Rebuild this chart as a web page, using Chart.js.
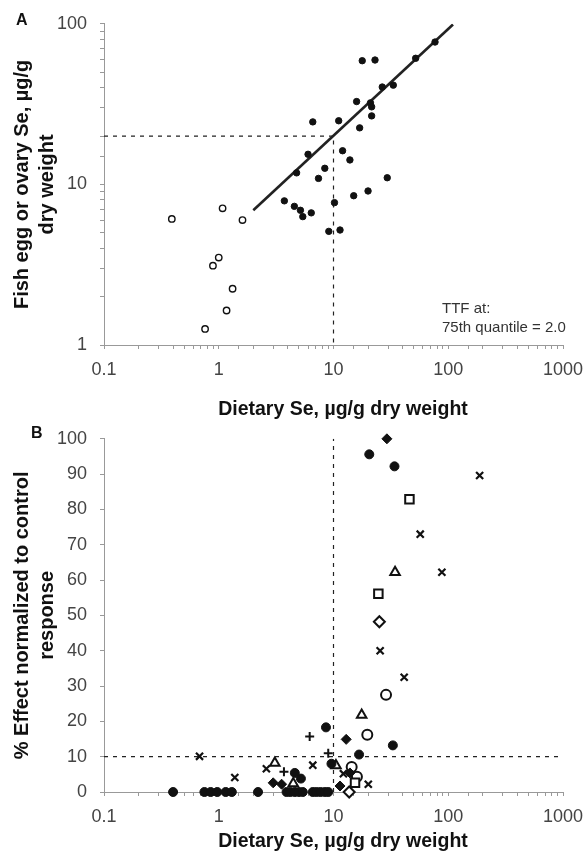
<!DOCTYPE html>
<html>
<head>
<meta charset="utf-8">
<script src="https://cdn.jsdelivr.net/npm/chart.js@4.4.1/dist/chart.umd.min.js"></script>
<style>
  html, body { margin: 0; padding: 0; background: #fff; }
  #wrap { position: relative; width: 586px; height: 854px; overflow: hidden; font-family: "Liberation Sans", Arial, sans-serif; }
  canvas { position: absolute; left: 0; }
  #chartA { top: 0; }
  #chartB { top: 415px; }
  .panel { position: absolute; font-weight: bold; font-size: 16px; color: #111; }
  .xtitle { position: absolute; left: 193px; width: 300px; text-align: center; font-weight: bold; font-size: 19.5px; line-height: 24px; color: #111; white-space: nowrap; }
  #ttf { position: absolute; left: 442px; top: 298px; font-size: 15px; line-height: 19px; color: #333; }
</style>
</head>
<body>
<div id="wrap">
  <canvas id="chartA" width="586" height="427"></canvas>
  <canvas id="chartB" width="586" height="439"></canvas>
  <div class="panel" style="left:16px; top:11px;">A</div>
  <div class="panel" style="left:31px; top:424px;">B</div>
  <div class="xtitle" style="top:396px;">Dietary Se, µg/g dry weight</div>
  <div class="xtitle" style="top:828px;">Dietary Se, µg/g dry weight</div>
  <div id="ttf">TTF at:<br>75th quantile = 2.0</div>
</div>
<script>
const FONT = '"Liberation Sans", Arial, sans-serif';

// axes
const xTickLabels = [0.1, 1, 10, 100, 1000];
const yTickLabelsA = [1, 10, 100];
const yTickLabelsB = [0, 10, 20, 30, 40, 50, 60, 70, 80, 90, 100];

// Panel A - fish egg/ovary Se vs dietary Se
const aOpenX = [0.39, 1.08, 1.61, 1.0, 0.89, 1.32, 1.17, 0.76];
const aOpenY = [6.1, 7.1, 6.0, 3.5, 3.12, 2.24, 1.64, 1.26];
const aFilledX = [17.8, 23, 26.6, 33.2, 52, 76.7, 15.9, 21, 21.5, 21.5, 16.9, 11.1, 6.6, 6.0, 12, 13.9, 8.4, 7.4, 29.4, 20, 15, 10.2, 3.73, 4.56, 5.15, 5.4, 6.4, 9.1, 11.4, 4.77];
const aFilledY = [58.9, 59.5, 40.4, 41.5, 61, 77, 32.8, 32.2, 30.4, 26.7, 22.5, 24.9, 24.5, 15.4, 16.2, 14.2, 12.6, 10.9, 11.0, 9.1, 8.5, 7.7, 7.9, 7.3, 6.9, 6.3, 6.65, 5.1, 5.2, 11.8];
const aFitX = [2, 110];
const aFitY = [6.9, 99];
const aGuideX = [0.1, 10, 10];
const aGuideY = [20, 20, 1];

// Panel B - % effect vs dietary Se
const bDotX = [20.5, 34, 8.6, 32.9, 16.7, 9.6, 4.6, 5.2, 0.40, 0.75, 0.85, 0.97, 1.15, 1.3, 2.2, 3.9, 4.2, 4.6, 5.0, 5.4, 6.6, 7.1, 7.7, 8.4, 9.0];
const bDotY = [95.6, 92.2, 18.3, 13.2, 10.6, 8, 5.4, 3.8, 0, 0, 0, 0, 0, 0, 0, 0, 0, 0, 0, 0, 0, 0, 0, 0, 0];
const bDiamondX = [29.2, 12.9, 2.98, 3.53, 13.9, 11.4];
const bDiamondY = [100, 14.9, 2.6, 2.2, 5.4, 1.7];
const bCrossX = [187.7, 57, 88, 25.5, 41.3, 0.68, 1.38, 2.6, 6.6, 12.2, 20.1];
const bCrossY = [89.6, 73, 62.2, 40, 32.5, 10.1, 4.1, 6.6, 7.6, 5.2, 2.2];
const bSquareX = [45.9, 24.6, 15.4];
const bSquareY = [82.9, 56.1, 2.6];
const bTriangleX = [34.4, 17.6, 3.08, 10.5, 4.46];
const bTriangleY = [62.2, 21.8, 8.2, 7.5, 2.4];
const bOpenDiamondX = [25.1, 13.7];
const bOpenDiamondY = [48.2, 0];
const bCircleX = [28.7, 19.7, 14.4, 16];
const bCircleY = [27.5, 16.2, 7.1, 4.3];
const bPlusX = [6.2, 9.0, 3.7];
const bPlusY = [15.7, 11, 5.7];
const bGuideHX = [0.1, 1000];
const bGuideHY = [10, 10];
const bGuideVX = [10, 10];
const bGuideVY = [0, 100];

const pts = (xs, ys) => xs.map((x, i) => ({ x: x, y: ys[i] }));
const isTick = (v, list) => list.some(t => Math.abs(v - t) <= Math.abs(t) * 1e-6 + 1e-9);

function marks(xs, ys, style, radius, filled, bw) {
    return {
        type: 'scatter',
        data: pts(xs, ys),
        pointStyle: style,
        pointRadius: radius,
        pointBorderWidth: bw,
        pointBorderColor: '#111',
        pointBackgroundColor: filled ? '#111' : '#fff',
        clip: false,
        order: 1
    };
}

function guide(xs, ys, dash, width) {
    return {
        type: 'line',
        data: pts(xs, ys),
        borderColor: '#222',
        borderWidth: width,
        borderDash: dash,
        pointRadius: 0,
        fill: false,
        tension: 0,
        order: 2
    };
}

function xScale(boxHeight) {
    return {
        type: 'logarithmic',
        min: 0.1,
        max: 1000,
        border: { display: true, color: '#999', dash: [1, 2] },
        grid: { drawOnChartArea: false, drawTicks: true, tickLength: 4, color: '#999' },
        ticks: {
            autoSkip: false,
            maxRotation: 0,
            padding: 10,
            color: '#444',
            font: { size: 18, family: FONT },
            callback: v => isTick(v, xTickLabels) ? String(xTickLabels.find(t => isTick(v, [t]))) : ''
        },
        afterFit: s => {
            s.height = boxHeight;
            s.paddingLeft = 0;
            s.paddingRight = 0;
        }
    };
}

function yTitle(lines) {
    return {
        display: true,
        text: lines,
        color: '#111',
        font: { size: 20, weight: 'bold', family: FONT, lineHeight: 1.25 },
        padding: { top: 9.5, bottom: 0 }
    };
}

const common = {
    responsive: false,
    animation: false,
    layout: { padding: { left: 0, right: 23, top: 20, bottom: 0 } },
    plugins: { legend: { display: false }, tooltip: { enabled: false } }
};

new Chart(document.getElementById('chartA'), {
    type: 'scatter',
    data: {
        datasets: [
            marks(aOpenX, aOpenY, 'circle', 3.2, false, 1.4),
            marks(aFilledX, aFilledY, 'circle', 3.2, true, 1),
            guide(aFitX, aFitY, [], 2.6),
            guide(aGuideX, aGuideY, [4, 5], 1.2)
        ]
    },
    options: Object.assign({}, common, {
        scales: {
            x: xScale(82),
            y: {
                type: 'logarithmic',
                min: 1,
                max: 100,
                border: { display: true, color: '#999', dash: [1, 2] },
                grid: { drawOnChartArea: false, drawTicks: true, tickLength: 4, color: '#999' },
                ticks: {
                    autoSkip: false,
                    padding: 13,
                    color: '#444',
                    font: { size: 18, family: FONT },
                    callback: v => isTick(v, yTickLabelsA) ? String(Math.round(v)) : ''
                },
                title: yTitle(['Fish egg or ovary Se, µg/g', 'dry weight']),
                afterFit: s => { s.width = 104; }
            }
        }
    })
});

new Chart(document.getElementById('chartB'), {
    type: 'scatter',
    data: {
        datasets: [
            marks(bDotX, bDotY, 'circle', 4.5, true, 1),
            marks(bDiamondX, bDiamondY, 'rectRot', 5, true, 1),
            marks(bCrossX, bCrossY, 'crossRot', 5, false, 2.2),
            marks(bSquareX, bSquareY, 'rect', 6, false, 2),
            marks(bTriangleX, bTriangleY, 'triangle', 5.5, false, 2),
            marks(bOpenDiamondX, bOpenDiamondY, 'rectRot', 5.5, false, 2),
            marks(bCircleX, bCircleY, 'circle', 5, false, 2),
            marks(bPlusX, bPlusY, 'cross', 4.5, false, 2),
            guide(bGuideHX, bGuideHY, [4, 5], 1.2),
            guide(bGuideVX, bGuideVY, [4, 5], 1.2)
        ]
    },
    options: Object.assign({}, common, {
        scales: {
            x: xScale(62),
            y: {
                type: 'linear',
                min: 0,
                max: 100,
                border: { display: true, color: '#999', dash: [1, 2] },
                grid: { drawOnChartArea: false, drawTicks: true, tickLength: 4, color: '#999' },
                ticks: {
                    stepSize: 10,
                    autoSkip: false,
                    padding: 13,
                    color: '#444',
                    font: { size: 18, family: FONT },
                    callback: v => isTick(v, yTickLabelsB) ? String(v) : ''
                },
                title: yTitle(['% Effect normalized to control', 'response']),
                afterFit: s => { s.width = 104; }
            }
        }
    })
});
</script>
</body>
</html>
